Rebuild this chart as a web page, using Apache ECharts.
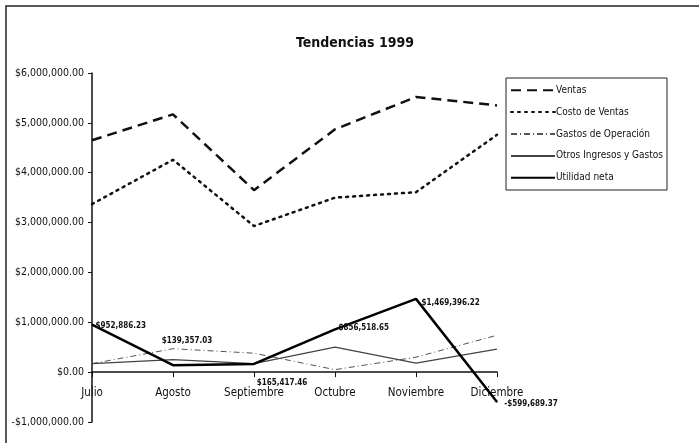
<!DOCTYPE html>
<html>
<head>
<meta charset="utf-8">
<script src="https://cdn.jsdelivr.net/npm/echarts@6/dist/echarts.min.js"></script>
<style>
  html, body { margin: 0; padding: 0; background: #fff; }
  #main { width: 699px; height: 443px; }
</style>
</head>
<body>
<div id="main"></div>
<script>
// datos
var meses = ['Julio', 'Agosto', 'Septiembre', 'Octubre', 'Noviembre', 'Diciembre'];
var ventas = [4650000, 5170000, 3650000, 4870000, 5520000, 5350000];
var costoVentas = [3370000, 4260000, 2930000, 3500000, 3610000, 4760000];
var gastosOperacion = [170000, 470000, 380000, 50000, 300000, 740000];
var otrosIngresos = [170000, 250000, 170000, 500000, 180000, 460000];
var utilidadNeta = [952886.23, 139357.03, 165417.46, 856518.65, 1469396.22, -599689.37];

var fuente = '"DejaVu Sans Condensed", "Liberation Sans Narrow", "Arial Narrow", sans-serif';

function dinero(v) {
    var s = Math.abs(v).toLocaleString('en-US', { minimumFractionDigits: 2, maximumFractionDigits: 2 });
    return (v < 0 ? '-$' : '$') + s;
}

// posición de cada etiqueta de Utilidad neta
var posEtiqueta = ['right', 'top', 'bottom', 'right', 'right', 'bottom'];
var offEtiqueta = [[-2, 1], [14, -15], [28, 10], [-2, -2], [0, 4], [34, -8]];

var myChart = echarts.init(document.getElementById('main'));

var option = {
    backgroundColor: '#fff',
    animation: false,
    title: {
        text: 'Tendencias 1999',
        left: 350,
        textAlign: 'center',
        top: 31,
        textStyle: { fontFamily: fuente, fontSize: 14, fontWeight: 'bold', color: '#111' }
    },
    legend: {
        orient: 'vertical',
        left: 506,
        top: 78,
        padding: [7, 4, 7, 4],
        itemGap: 11.5,
        itemWidth: 44,
        itemHeight: 13,
        borderColor: '#222',
        borderWidth: 1,
        itemStyle: { color: 'transparent', borderWidth: 0 },
        textStyle: { fontFamily: fuente, fontSize: 10, color: '#111', padding: [0, 0, 0, -4] },
        data: ['Ventas', 'Costo de Ventas', 'Gastos de Operación', 'Otros Ingresos y Gastos', 'Utilidad neta']
    },
    grid: { left: 92, right: 202, top: 73, bottom: 21 },
    xAxis: {
        type: 'category',
        boundaryGap: false,
        data: meses,
        axisLine: { onZero: true, lineStyle: { color: '#111', width: 1.5 } },
        axisTick: { show: true, length: 5, inside: false, interval: 0, lineStyle: { color: '#111' } },
        axisLabel: { fontFamily: fuente, fontSize: 11.5, color: '#111', margin: -35, interval: 0 }
    },
    yAxis: {
        type: 'value',
        min: -1000000,
        max: 6000000,
        interval: 1000000,
        axisLine: { show: true, lineStyle: { color: '#111', width: 1.5 } },
        axisTick: { show: true, length: 4, lineStyle: { color: '#111' } },
        splitLine: { show: false },
        axisLabel: {
            fontFamily: fuente, fontSize: 10.5, color: '#111', margin: 8,
            formatter: dinero
        }
    },
    series: [
        {
            name: 'Ventas', type: 'line', data: ventas, symbol: 'none',
            color: '#111',
            lineStyle: { color: '#111', width: 2.5, type: [10, 6] }
        },
        {
            name: 'Costo de Ventas', type: 'line', data: costoVentas, symbol: 'none',
            color: '#111',
            lineStyle: { color: '#111', width: 2.5, type: [2, 5], cap: 'round' }
        },
        {
            name: 'Gastos de Operación', type: 'line', data: gastosOperacion, symbol: 'none',
            color: '#555',
            lineStyle: { color: '#555', width: 1, type: [6, 3, 1, 3] }
        },
        {
            name: 'Otros Ingresos y Gastos', type: 'line', data: otrosIngresos, symbol: 'none',
            color: '#444',
            lineStyle: { color: '#444', width: 1.3 }
        },
        {
            name: 'Utilidad neta', type: 'line',
            symbol: 'circle', symbolSize: 1, showSymbol: true,
            color: '#000',
            lineStyle: { color: '#000', width: 2.5 },
            data: utilidadNeta.map(function (v, i) {
                return {
                    value: v,
                    label: {
                        show: true,
                        position: posEtiqueta[i],
                        offset: offEtiqueta[i],
                        formatter: function (p) { return dinero(p.value); },
                        fontFamily: fuente, fontSize: 8, fontWeight: 'bold', color: '#111'
                    }
                };
            })
        }
    ],
    graphic: [
        {
            type: 'polyline',
            shape: { points: [[6, 443], [6, 6], [699, 6]] },
            style: { stroke: '#222', lineWidth: 1.5, fill: null }
        }
    ]
};

myChart.setOption(option);
</script>
</body>
</html>
